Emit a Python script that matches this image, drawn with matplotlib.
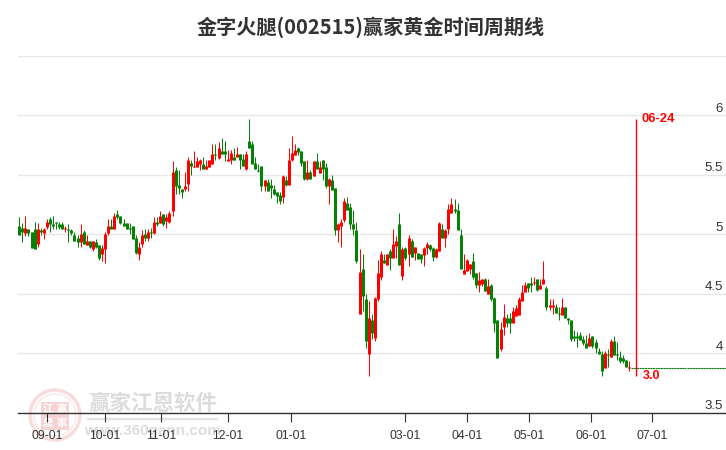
import numpy as np
import matplotlib
matplotlib.use("Agg")
import matplotlib.pyplot as plt
from matplotlib.patches import Circle, Rectangle

plt.rcParams["font.family"] = ["Liberation Sans", "Noto Sans CJK SC", "DejaVu Sans"]

TITLE = "金字火腿(002515)赢家黄金时间周期线"
RED = "#ff0000"
GREEN = "#058205"

opens = [
    5.07, 5.05, 5.01, 5.04, 5.02, 5.04, 4.92, 5.03, 5.01, 5.06,
    5.13, 5.08, 5.10, 5.08, 5.08, 5.04, 5.04, 5.03, 4.99, 4.97,
    4.93, 5.02, 4.91, 4.94, 4.87, 4.93, 4.91, 4.83, 4.87, 5.01,
    5.07, 5.04, 5.17, 5.15, 5.09, 5.09, 5.05, 5.07, 4.97, 4.83,
    4.92, 5.00, 4.97, 5.02, 5.01, 5.10, 5.09, 5.17, 5.11, 5.10,
    5.19, 5.54, 5.41, 5.38, 5.38, 5.42, 5.60, 5.56, 5.56, 5.59,
    5.59, 5.55, 5.56, 5.59, 5.67, 5.64, 5.70, 5.70, 5.61, 5.62,
    5.65, 5.65, 5.67, 5.63, 5.55, 5.78, 5.76, 5.60, 5.54, 5.57,
    5.40, 5.44, 5.41, 5.38, 5.35, 5.33, 5.31, 5.45, 5.41, 5.62,
    5.66, 5.72, 5.70, 5.61, 5.46, 5.52, 5.49, 5.61, 5.51, 5.62,
    5.56, 5.40, 5.45, 5.39, 5.03, 5.07, 5.12, 5.26, 5.23, 5.08,
    5.03, 4.33, 4.71, 4.45, 3.99, 4.28, 4.13, 4.45, 4.64, 4.78,
    4.74, 4.86, 4.80, 4.90, 5.08, 4.65, 4.88, 4.83, 4.94, 4.84,
    4.84, 4.83, 4.82, 4.88, 4.91, 4.88, 4.81, 4.86, 5.04, 4.97,
    5.04, 5.18, 5.21, 5.20, 4.99, 4.66, 4.69, 4.71, 4.77, 4.67,
    4.57, 4.58, 4.62, 4.50, 4.57, 4.46, 4.28, 4.03, 4.22, 4.29,
    4.29, 4.25, 4.31, 4.32, 4.44, 4.51, 4.59, 4.59, 4.59, 4.62,
    4.54, 4.58, 4.55, 4.39, 4.39, 4.39, 4.34, 4.32, 4.39, 4.29,
    4.28, 4.14, 4.14, 4.15, 4.12, 4.08, 4.06, 4.14, 4.09, 4.02,
    3.99, 3.87, 3.99, 3.97, 4.10, 3.99, 3.97, 3.96, 3.94, 3.87,
]
closes = [
    4.99, 5.02, 5.05, 5.01, 4.88, 4.87, 5.04, 5.02, 5.04, 5.10,
    5.08, 5.07, 5.09, 5.06, 5.04, 5.05, 5.03, 5.01, 4.94, 4.93,
    5.00, 4.92, 4.94, 4.89, 4.94, 4.89, 4.80, 4.88, 5.00, 5.07,
    5.04, 5.15, 5.14, 5.09, 5.07, 5.04, 5.04, 4.96, 4.84, 4.89,
    4.99, 4.97, 5.02, 5.01, 5.10, 5.08, 5.15, 5.08, 5.14, 5.18,
    5.52, 5.40, 5.39, 5.35, 5.40, 5.62, 5.57, 5.57, 5.61, 5.62,
    5.55, 5.57, 5.62, 5.67, 5.66, 5.72, 5.67, 5.67, 5.63, 5.68,
    5.62, 5.67, 5.62, 5.57, 5.67, 5.72, 5.59, 5.55, 5.53, 5.40,
    5.45, 5.36, 5.39, 5.34, 5.32, 5.28, 5.49, 5.41, 5.62, 5.68,
    5.71, 5.69, 5.60, 5.46, 5.52, 5.46, 5.61, 5.55, 5.56, 5.55,
    5.40, 5.46, 5.37, 5.03, 5.08, 5.10, 5.28, 5.20, 5.08, 5.04,
    4.77, 4.68, 4.48, 4.10, 4.29, 4.17, 4.46, 4.67, 4.83, 4.76,
    4.83, 4.80, 4.92, 4.94, 4.74, 4.87, 4.80, 4.97, 4.81, 4.89,
    4.79, 4.79, 4.88, 4.92, 4.87, 4.81, 4.87, 5.09, 4.97, 5.03,
    5.21, 5.25, 5.19, 5.03, 4.71, 4.70, 4.78, 4.75, 4.64, 4.57,
    4.61, 4.62, 4.52, 4.56, 4.45, 4.25, 3.96, 4.20, 4.30, 4.25,
    4.25, 4.35, 4.38, 4.45, 4.51, 4.57, 4.55, 4.57, 4.60, 4.53,
    4.57, 4.62, 4.39, 4.40, 4.40, 4.34, 4.33, 4.39, 4.29, 4.28,
    4.12, 4.13, 4.13, 4.11, 4.08, 4.04, 4.13, 4.06, 4.04, 3.99,
    3.85, 4.00, 3.98, 4.10, 3.98, 3.98, 3.93, 3.93, 3.88, 3.88,
]
highs = [
    5.14, 5.09, 5.15, 5.04, 5.02, 5.10, 5.09, 5.05, 5.05, 5.13,
    5.14, 5.15, 5.10, 5.10, 5.10, 5.07, 5.08, 5.04, 5.02, 4.99,
    5.08, 5.03, 4.99, 4.94, 4.94, 4.96, 4.91, 4.91, 5.02, 5.13,
    5.13, 5.18, 5.20, 5.15, 5.13, 5.09, 5.09, 5.07, 4.99, 4.93,
    5.03, 5.04, 5.04, 5.05, 5.14, 5.14, 5.19, 5.17, 5.17, 5.19,
    5.61, 5.56, 5.54, 5.38, 5.52, 5.65, 5.62, 5.70, 5.65, 5.63,
    5.65, 5.62, 5.62, 5.76, 5.76, 5.77, 5.81, 5.78, 5.71, 5.71,
    5.72, 5.73, 5.67, 5.67, 5.70, 5.97, 5.78, 5.65, 5.59, 5.57,
    5.45, 5.46, 5.46, 5.41, 5.35, 5.35, 5.50, 5.49, 5.72, 5.82,
    5.76, 5.73, 5.70, 5.61, 5.62, 5.54, 5.61, 5.68, 5.61, 5.62,
    5.60, 5.47, 5.50, 5.39, 5.09, 5.13, 5.30, 5.31, 5.26, 5.20,
    5.10, 4.87, 4.83, 4.50, 4.44, 4.33, 4.47, 4.78, 4.86, 4.83,
    4.83, 4.87, 5.04, 4.98, 5.18, 4.89, 4.89, 4.99, 4.96, 4.89,
    4.84, 4.83, 4.89, 4.93, 4.92, 4.89, 4.88, 5.10, 5.08, 5.04,
    5.25, 5.30, 5.29, 5.26, 5.04, 4.83, 4.79, 4.75, 4.84, 4.67,
    4.68, 4.62, 4.63, 4.62, 4.58, 4.47, 4.28, 4.26, 4.41, 4.33,
    4.34, 4.39, 4.40, 4.47, 4.57, 4.60, 4.59, 4.64, 4.64, 4.62,
    4.62, 4.77, 4.56, 4.45, 4.45, 4.41, 4.39, 4.46, 4.39, 4.29,
    4.28, 4.19, 4.18, 4.18, 4.14, 4.15, 4.17, 4.14, 4.12, 4.04,
    4.02, 4.02, 4.03, 4.12, 4.14, 4.09, 4.02, 3.98, 3.94, 3.93,
]
lows = [
    4.99, 4.93, 4.98, 4.98, 4.88, 4.87, 4.89, 4.99, 4.96, 5.04,
    5.02, 5.04, 5.04, 5.04, 5.04, 5.02, 4.93, 4.99, 4.94, 4.89,
    4.89, 4.92, 4.91, 4.88, 4.86, 4.88, 4.78, 4.77, 4.76, 4.99,
    5.04, 5.04, 5.13, 5.08, 5.07, 5.04, 5.00, 4.96, 4.83, 4.78,
    4.89, 4.94, 4.94, 4.97, 5.00, 5.07, 5.09, 5.07, 5.05, 5.09,
    5.15, 5.34, 5.34, 5.30, 5.36, 5.36, 5.50, 5.56, 5.56, 5.54,
    5.55, 5.55, 5.56, 5.59, 5.62, 5.63, 5.67, 5.61, 5.61, 5.59,
    5.62, 5.65, 5.55, 5.57, 5.54, 5.72, 5.59, 5.55, 5.52, 5.36,
    5.36, 5.36, 5.30, 5.33, 5.26, 5.25, 5.26, 5.40, 5.41, 5.61,
    5.66, 5.66, 5.57, 5.45, 5.45, 5.46, 5.49, 5.55, 5.51, 5.45,
    5.39, 5.25, 5.37, 4.99, 4.93, 4.89, 5.10, 5.20, 5.04, 4.99,
    4.76, 4.33, 4.35, 4.04, 3.81, 4.12, 4.10, 4.44, 4.61, 4.76,
    4.74, 4.70, 4.80, 4.80, 4.74, 4.61, 4.78, 4.73, 4.81, 4.78,
    4.79, 4.76, 4.73, 4.83, 4.86, 4.77, 4.80, 4.86, 4.97, 4.89,
    5.00, 5.18, 5.18, 5.03, 4.71, 4.66, 4.69, 4.66, 4.62, 4.55,
    4.51, 4.56, 4.52, 4.50, 4.44, 4.18, 3.96, 4.02, 4.15, 4.22,
    4.17, 4.25, 4.31, 4.32, 4.44, 4.51, 4.51, 4.51, 4.57, 4.52,
    4.54, 4.58, 4.36, 4.36, 4.33, 4.34, 4.28, 4.32, 4.29, 4.24,
    4.10, 4.10, 4.05, 4.11, 4.07, 4.04, 4.06, 4.04, 4.00, 3.99,
    3.81, 3.87, 3.88, 3.97, 3.98, 3.94, 3.92, 3.92, 3.88, 3.85,
]

date_labels = ["09-01", "10-01", "11-01", "12-01", "01-01", "03-01", "04-01", "05-01", "06-01", "07-01"]
date_index = [9.2, 28.0, 46.2, 68.0, 88.6, 125.8, 146.0, 166.3, 186.5, 206.4]
price_ticks = [3.5, 4, 4.5, 5, 5.5, 6, 6.5]
price_labels = ["3.5", "4", "4.5", "5", "5.5", "6", ""]

cycle_index = 201.3
cycle_top = 5.97
cycle_bottom = 3.81
cycle_date = "06-24"
cycle_value = "3.0"
flat_price = 3.875

fig = plt.figure(figsize=(7.26, 4.5), dpi=100)

# backdrop in pixel coordinates: title and watermark
bg = fig.add_axes([0, 0, 1, 1], zorder=0)
bg.set_xlim(0, 726)
bg.set_ylim(450, 0)
bg.axis("off")
cjk = ["Noto Sans CJK SC", "DejaVu Sans"]
bg.text(371, 27, TITLE, ha="center", va="center", fontsize=14.5, fontweight="bold",
        color="#333333", family=cjk)
bg.add_patch(Circle((55, 415), 25, fill=False, ec="#f8dcdc", lw=2.5))
bg.add_patch(Circle((55, 415), 21, fill=False, ec="#fbeaea", lw=1.2))
for (cx, cy), ch in zip([(48, 409), (62, 409), (48, 423), (62, 423)], "江赢恩家"):
    bg.add_patch(Rectangle((cx - 7, cy - 7), 14, 14, color="#f7d4d4", lw=0))
    bg.text(cx, cy, ch, ha="center", va="center", fontsize=7.5, color="white",
            fontweight="bold", family=cjk)
bg.text(152.5, 403, "赢家江恩软件", ha="center", va="center", fontsize=15.5, color="#dcdcdc",
        fontweight="bold", family=cjk)
bg.plot([88, 217], [419, 419], color="#e2e2e2", lw=1.6)
bg.text(152, 431, "www.360gann.com", ha="center", va="center", fontsize=11, color="#dddddd",
        fontweight="bold")

# 18..726 px wide, 6.5 at y=55.5 and 3.5 at y=412
ax = fig.add_axes([18 / 726, (450 - 412.5) / 450, 708 / 726, 357 / 450], zorder=1)
ax.patch.set_alpha(0)
ax.set_xlim((18 - 19.3) / 3.065, (726 - 19.3) / 3.065)
ax.set_ylim(3.5, 6.5)

ax.set_yticks(price_ticks)
ax.set_yticklabels(price_labels)
ax.yaxis.tick_right()
ax.tick_params(axis="y", length=0, pad=-2, labelsize=9.5, labelcolor="#333333")
for lab in ax.get_yticklabels():
    lab.set_ha("right")
    lab.set_va("bottom")
ax.grid(axis="y", color="#e6e6e6", lw=1)
ax.set_axisbelow(True)

ax.set_xticks(date_index)
ax.set_xticklabels(date_labels)
ax.tick_params(axis="x", length=6.5, width=0.8, color="#333333", pad=6, labelsize=8.8, labelcolor="#333333")

for side in ["top", "left", "right"]:
    ax.spines[side].set_visible(False)
ax.spines["bottom"].set_color("#333333")
ax.spines["bottom"].set_linewidth(1)

o = np.array(opens)
c = np.array(closes)
idx = np.arange(len(o))
colors = [RED if close >= op else GREEN for op, close in zip(o, c)]
# thick snapped lines give every body the same 3 px width, bars come out 2 or 3 px
ax.vlines(idx, lows, highs, colors=colors, lw=0.72, zorder=3, snap=True)
ax.vlines(idx, np.minimum(o, c), np.maximum(np.maximum(o, c), np.minimum(o, c) + 0.008), colors=colors,
          lw=2.16, zorder=3, snap=True, capstyle="butt")

# flat continuation after the last candle, and the cycle marker
ax.plot([idx[-1] + 0.7, 217.5], [flat_price, flat_price], color=GREEN, lw=0.8, ls=(0, (2, 0.4)), zorder=2)
ax.plot([217.9, ax.get_xlim()[1]], [flat_price, flat_price], color=GREEN, lw=0.8, ls=(0, (2, 0.4)), zorder=2)
ax.vlines(cycle_index, cycle_bottom, cycle_top, color=RED, lw=1, zorder=4)
ax.annotate(cycle_date, (cycle_index, cycle_top), xytext=(4, -0.5), textcoords="offset points",
            color=RED, fontsize=9.4, fontweight="bold", va="center", ha="left")
ax.annotate(cycle_value, (cycle_index, cycle_bottom), xytext=(4.5, 0), textcoords="offset points",
            color=RED, fontsize=9, fontweight="bold", va="center", ha="left")

fig.savefig("out.png", dpi=100)
